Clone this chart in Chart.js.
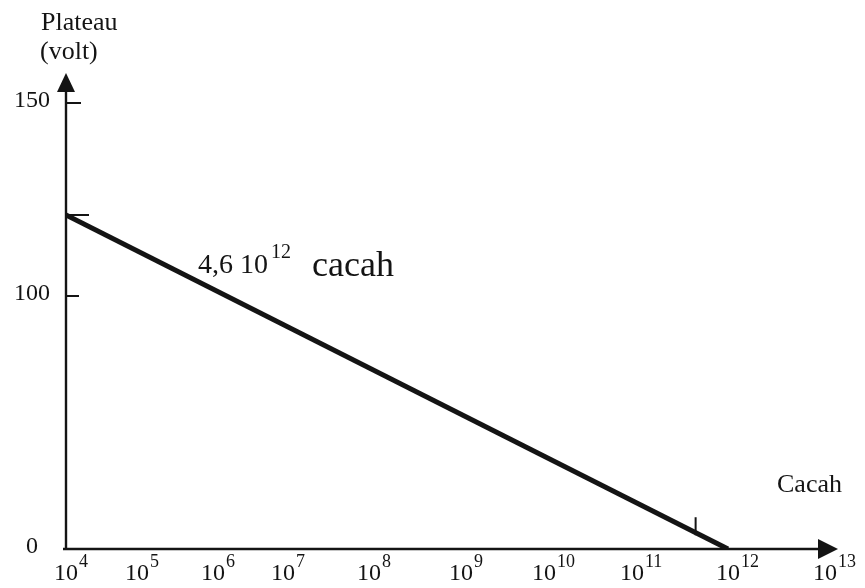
<!DOCTYPE html>
<html>
<head>
<meta charset="utf-8">
<script src="https://cdn.jsdelivr.net/npm/chart.js@4.4.1/dist/chart.umd.min.js"></script>
<style>
  html, body { margin: 0; padding: 0; background: #fff; }
  #wrap { width: 865px; height: 588px; position: relative; }
</style>
</head>
<body>
<div id="wrap"><canvas id="chart"></canvas></div>
<script>
// Plateau (volt) against count (cacah)
const xExponents = [4, 5, 6, 7, 8, 9, 10, 11, 12, 13];
const yTickValues = [0, 100, 120, 150];
const yTickLabels = ["0", "100", "", "150"];
const plateauCounts = [1e4, 1e12];
const plateauVolts = [120, 0];
const markerCounts = [4.6e11];
const markerVolts = [9];

const ink = "#141414";
const serif = "'Liberation Serif', 'Times New Roman', serif";
const yTickLengths = [0, 13, 23, 15];

// the axes were drawn by hand and are not evenly spaced,
// so each scale maps its values through a calibration
const calibration = {
  x: { at: xExponents, frac: [0, 0.0935, 0.1937, 0.2859, 0.3992, 0.5204, 0.6298, 0.7457, 0.8722, 1] },
  y: { at: [0, 100, 120, 150], frac: [0, 0.5673, 0.7489, 1] },
};

function interp(xs, ys, v) {
  for (let i = 1; i < xs.length; i++) {
    if (v <= xs[i] || i === xs.length - 1) {
      const t = (v - xs[i - 1]) / (xs[i] - xs[i - 1]);
      return ys[i - 1] + t * (ys[i] - ys[i - 1]);
    }
  }
}

class HandScale extends Chart.LinearScale {
  getPixelForValue(value) {
    const c = calibration[this.axis];
    const v = this.axis === "x" ? Math.log10(value) : value;
    return this.getPixelForDecimal(interp(c.at, c.frac, v));
  }
  getValueForPixel(pixel) {
    const c = calibration[this.axis];
    const v = interp(c.frac, c.at, this.getDecimalForPixel(pixel));
    return this.axis === "x" ? Math.pow(10, v) : v;
  }
}
HandScale.id = "hand";
Chart.register(HandScale);

// axes, arrows, tick marks and labels drawn in the scanned style
const handAxes = {
  id: "handAxes",
  beforeDatasetsDraw(chart) {
    const { ctx } = chart;
    const xs = chart.scales.x;
    const ys = chart.scales.y;
    const x0 = xs.getPixelForValue(Math.pow(10, xExponents[0]));
    const y0 = ys.getPixelForValue(0);
    ctx.save();
    ctx.strokeStyle = ink;
    ctx.fillStyle = ink;
    ctx.lineWidth = 2.4;

    // y axis
    const yTip = ys.top - 30;
    ctx.beginPath();
    ctx.moveTo(x0, y0 + 1);
    ctx.lineTo(x0, yTip + 15);
    ctx.stroke();
    ctx.beginPath();
    ctx.moveTo(x0, yTip);
    ctx.lineTo(x0 + 9, yTip + 19);
    ctx.lineTo(x0 - 9, yTip + 19);
    ctx.closePath();
    ctx.fill();

    // x axis
    const xTip = xs.right + 13;
    ctx.beginPath();
    ctx.moveTo(x0 - 3, y0);
    ctx.lineTo(xTip - 15, y0);
    ctx.stroke();
    ctx.beginPath();
    ctx.moveTo(xTip, y0);
    ctx.lineTo(xTip - 20, y0 - 10);
    ctx.lineTo(xTip - 20, y0 + 10);
    ctx.closePath();
    ctx.fill();

    // inward y tick marks
    ctx.lineWidth = 2;
    yTickValues.forEach((v, i) => {
      if (!yTickLengths[i]) return;
      const py = ys.getPixelForValue(v);
      ctx.beginPath();
      ctx.moveTo(x0, py);
      ctx.lineTo(x0 + yTickLengths[i], py);
      ctx.stroke();
    });
    ctx.restore();
  },
  afterDraw(chart) {
    const { ctx } = chart;
    const xs = chart.scales.x;
    const ys = chart.scales.y;
    ctx.save();
    ctx.fillStyle = ink;

    // y tick labels
    ctx.font = `24px ${serif}`;
    ctx.textAlign = "center";
    ctx.textBaseline = "middle";
    yTickValues.forEach((v, i) => {
      if (yTickLabels[i]) ctx.fillText(yTickLabels[i], 32, ys.getPixelForValue(v) - 2);
    });

    // x tick labels: 10 with a raised exponent
    ctx.textBaseline = "alphabetic";
    xExponents.forEach((e) => {
      const px = xs.getPixelForValue(Math.pow(10, e));
      ctx.font = `24px ${serif}`;
      ctx.textAlign = "center";
      ctx.fillText("10", px, 580);
      const w = ctx.measureText("10").width;
      ctx.font = `18px ${serif}`;
      ctx.textAlign = "left";
      ctx.fillText(String(e), px + w / 2 + 1, 567);
    });

    // axis titles
    ctx.font = `26px ${serif}`;
    ctx.textAlign = "left";
    ctx.fillText("Plateau", 41, 30);
    ctx.fillText("(volt)", 40, 59);
    ctx.fillText("Cacah", 777, 492);

    // annotation on the line
    ctx.font = `28px ${serif}`;
    ctx.fillText("4,6 10", 198, 273);
    const aw = ctx.measureText("4,6 10").width;
    ctx.font = `20px ${serif}`;
    ctx.fillText("12", 198 + aw + 3, 258);
    ctx.font = `36px ${serif}`;
    ctx.fillText("cacah", 312, 276);
    ctx.restore();
  },
};

function makeChart() {
  const chart = new Chart(document.getElementById("chart"), {
    type: "line",
    data: {
      datasets: [
        {
          label: "Plateau",
          data: plateauCounts.map((c, i) => ({ x: c, y: plateauVolts[i] })),
          borderColor: ink,
          borderWidth: 5,
          pointRadius: 0,
          tension: 0,
          fill: false,
        },
        {
          label: "Mark",
          data: markerCounts.map((c, i) => ({ x: c, y: markerVolts[i] })),
          showLine: false,
          pointStyle: "line",
          rotation: 90,
          pointRadius: 9,
          pointBorderWidth: 2,
          borderColor: ink,
        },
      ],
    },
    options: {
      responsive: true,
      maintainAspectRatio: false,
      animation: false,
      layout: {
        padding: { left: 66, right: 40, top: 103, bottom: 39 },
      },
      scales: {
        x: { type: "hand", min: 1e4, max: 1e13, display: false },
        y: { type: "hand", min: 0, max: 150, display: false },
      },
      plugins: {
        legend: { display: false },
        tooltip: { enabled: false },
      },
    },
    plugins: [handAxes],
  });
  // redraw once more in case the font arrived late
  setTimeout(() => chart.draw(), 200);
}

if (document.fonts && document.fonts.load) {
  document.fonts.load(`24px 'Liberation Serif'`).then(makeChart, makeChart);
} else {
  makeChart();
}
</script>
</body>
</html>
